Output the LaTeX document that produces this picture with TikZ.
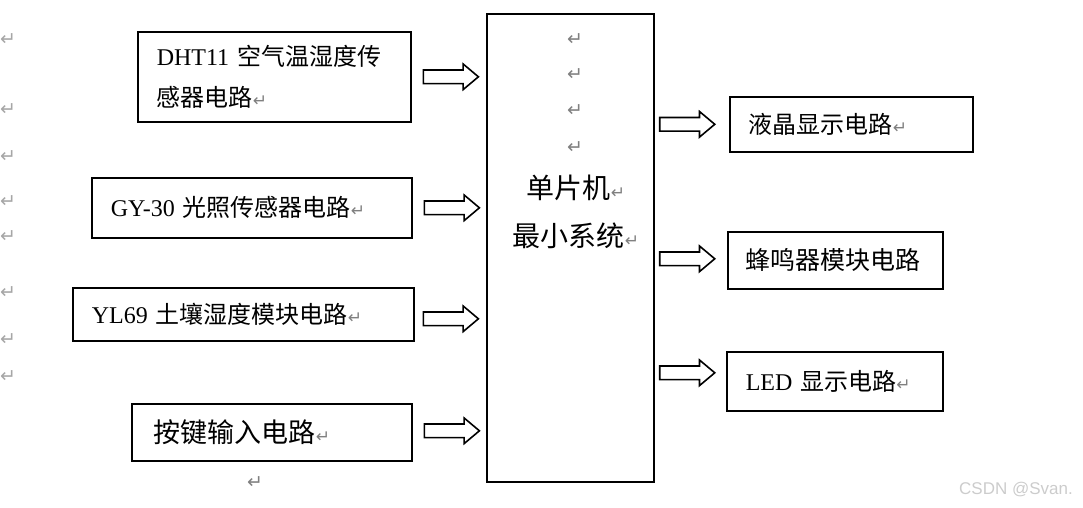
\documentclass[tikz,border=0pt]{standalone}
\usepackage{fontspec}
\setmainfont{Liberation Serif}
\newfontfamily\cjk{Noto Sans CJK SC}
\newfontfamily\symfont{DejaVu Sans}
\newfontfamily\wmfont{Liberation Sans}
\usetikzlibrary{positioning,shapes.arrows}

\newcommand{\zh}[1]{{\cjk #1}}
\newcommand{\pmk}{{\symfont\fontsize{17}{17}\selectfont\color{gray}↵}}

\tikzset{
	blk/.style={draw,line width=1.6pt,anchor=north west,align=left,inner xsep=19pt,inner ysep=0pt,font=\fontsize{24}{41}\selectfont},
	hollow/.style={draw,line width=1.6pt,single arrow,single arrow head extend=6pt,single arrow tip angle=80,inner xsep=0pt,inner ysep=6pt,minimum height=55pt},
	pmark/.style={text=gray,font=\symfont\fontsize{19}{19}\selectfont,inner sep=0pt}
}

\begin{document}
\begin{tikzpicture}[x=1pt,y=-1pt]
\useasboundingbox (0,0) rectangle (1083,508);

% input blocks
\node[blk,text width=235pt,minimum height=90pt](dht) at (137,31) {DHT11 \zh{空气温湿度传}\\\zh{感器电路}\pmk};
\node[blk,text width=282pt,minimum height=60pt](gy) at (91,177) {GY-30 \zh{光照传感器电路}\pmk};
\node[blk,text width=303pt,minimum height=53pt](yl) at (72,287) {YL69 \zh{土壤湿度模块电路}\pmk};
\node[blk,text width=236pt,inner xsep=22pt,minimum height=57pt,font=\fontsize{27}{30}\selectfont](key) at (131,403) {\zh{按键输入电路}\pmk};

% MCU
\node[draw,line width=1.6pt,anchor=north west,inner sep=0pt,minimum width=167pt,minimum height=468pt](mcu) at (486,13) {};
\node[align=center,font=\fontsize{28}{48}\selectfont](mcutxt) at (576,212) {\zh{单片机}\pmk\\\zh{最小系统}\pmk};

% output blocks
\node[blk,text width=205pt,minimum height=55pt](lcd) at (729,96) {\zh{液晶显示电路}\pmk};
\node[blk,text width=179pt,inner xsep=18pt,minimum height=57pt,font=\fontsize{25}{30}\selectfont](buz) at (727,231) {\zh{蜂鸣器模块电路}};
\node[blk,text width=178pt,minimum height=59pt](led) at (726,351) {LED \zh{显示电路}\pmk};

% arrows
\node[hollow,right=11pt of dht](a1) {};
\node[hollow,right=11pt of gy](a2) {};
\node[hollow,right=8pt of yl,yshift=-4.5pt](a3) {};
\node[hollow,right=11pt of key,yshift=1.5pt](a4) {};
\node[hollow,left=13pt of lcd](a5) {};
\node[hollow,left=11pt of buz,yshift=1.5pt](a6) {};
\node[hollow,left=10pt of led,yshift=8.5pt](a7) {};

% paragraph marks
\foreach[count=\c] \y in {40,75,111,148}
	\node[pmark](pc\c) at (575,\y) {↵};
\foreach[count=\c] \y in {40,110,157,202,237,293,340,377}
	\node[pmark,text=gray!70,anchor=west](pl\c) at (0,\y) {↵};
\node[pmark](pk) at (255,483) {↵};

\node[text=gray!40,font=\wmfont\fontsize{17}{17}\selectfont](wm) at (1016,490) {CSDN @Svan.};
\end{tikzpicture}
\end{document}
